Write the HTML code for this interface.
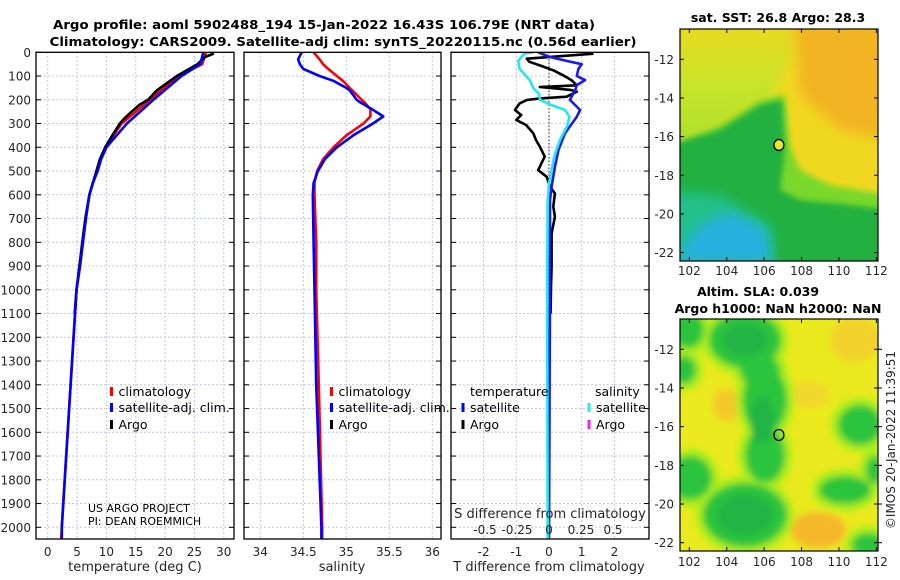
<!DOCTYPE html>
<html><head><meta charset="utf-8"><style>
html,body{margin:0;padding:0;background:#fff;}
svg{display:block;font-family:"DejaVu Sans","Liberation Sans",sans-serif;}
.tk{font-size:12px;fill:#262626;}
.tt{font-size:12.5px;font-weight:bold;fill:#000;}
.lg{font-size:12.5px;fill:#000;}
</style></head><body>
<svg id="fig" width="900" height="580" viewBox="0 0 900 580">
<defs>
<clipPath id="c1"><rect x="36" y="52" width="198" height="487"/></clipPath>
<clipPath id="c2"><rect x="244" y="52" width="197" height="487"/></clipPath>
<clipPath id="c3"><rect x="451" y="52" width="198" height="487"/></clipPath>
<clipPath id="m1"><rect x="680" y="29" width="198" height="232"/></clipPath>
<clipPath id="m2"><rect x="680" y="319" width="198" height="232"/></clipPath>
<filter id="bl" x="-20%" y="-20%" width="140%" height="140%"><feGaussianBlur stdDeviation="6"/></filter>
<filter id="bl2" x="-20%" y="-20%" width="140%" height="140%"><feGaussianBlur stdDeviation="3"/></filter>
<filter id="bl3" x="-20%" y="-20%" width="140%" height="140%"><feGaussianBlur stdDeviation="3.5"/></filter>
<linearGradient id="ylg" x1="0" y1="0" x2="0" y2="1"><stop offset="0" stop-color="#ecd81e"/><stop offset="0.5" stop-color="#c8e42a"/><stop offset="1" stop-color="#a8e02a"/></linearGradient>
</defs>
<text class="tt" x="324" y="29" text-anchor="middle" textLength="542" lengthAdjust="spacingAndGlyphs">Argo profile: aoml 5902488_194 15-Jan-2022 16.43S 106.79E (NRT data)</text>
<text class="tt" x="343" y="46" text-anchor="middle" textLength="587" lengthAdjust="spacingAndGlyphs">Climatology: CARS2009. Satellite-adj clim: synTS_20220115.nc (0.56d earlier)</text>
<g id="grids"></g>
<g id="lines"></g>
<g id="axes"></g>
<g id="maps"></g>
</svg>
<script>
// ---- data ----
const tDepth = [0,50,100,200,300,400,450,500,550,600,650,700,800,900,1000,1400,2000,2050];
const tClim = [27,26.3,22.2,17.4,12.6,9.8,9.0,8.4,7.7,7.1,6.8,6.5,6.0,5.5,4.9,3.9,2.4,2.3];
const tSat  = [26.5,26,22.8,18,13.5,10,9.1,8.5,7.7,7.1,6.8,6.5,6.0,5.5,4.9,3.9,2.4,2.4];
const argoDepth = [5,20,50,100,160,200,220,250,280,300,350,400,450,500,550,600,650,700,800,900,1000,1100];
const argoT = [28.3,26.8,25.5,22,18.6,17.1,15.7,14.3,13.0,12.3,11,9.8,8.9,8.3,7.7,7.1,6.75,6.4,5.9,5.4,4.9,4.6];
const sDepth = [0,30,50,70,100,120,150,160,190,200,210,240,270,300,350,400,450,500,550,600,800,1000,1400,2000,2050];
const sClim = [34.62,34.69,34.73,34.79,34.89,34.96,35.04,35.07,35.15,35.18,35.21,35.28,35.28,35.2,35.0,34.85,34.73,34.66,34.63,34.63,34.65,34.65,34.68,34.72,34.72];
const sSat  = [34.48,34.44,34.46,34.5,34.69,34.85,35.0,35.04,35.1,35.12,35.16,35.3,35.43,35.31,35.08,34.89,34.75,34.67,34.62,34.61,34.62,34.63,34.65,34.71,34.71];
const dTDepth = [0,20,35,50,70,100,117,138,159,200,243,271,341,411,482,566,622,1000,2050];
const dTSat = [-0.33,0.03,0.5,1.0,0.9,0.85,1.1,0.85,0.8,0.64,0.95,0.85,0.49,0.29,0.18,0.08,0.03,0.03,0.0];
const dSDepth = [0,5,35,70,117,152,173,200,218,243,271,313,369,439,552,622,1000,2050];
const dSSat = [-0.12,-0.19,-0.24,-0.23,-0.15,-0.12,-0.08,-0.07,0,0.125,0.16,0.14,0.086,0.04,0.0,-0.01,-0.015,-0.01];
const dTArgoDepth = [6,27,40,55,76,97,118,139,146,152,159,166,187,194,201,215,243,264,285,306,341,369,397,439,482,496,524,566,594,650,692,763,904,988,1100];
const dTArgo = [1.36,-0.68,-0.6,-0.28,0.13,0.43,0.69,0.85,-0.28,0.2,0.69,0.85,0.54,-0.28,-0.68,-0.9,-1.04,-0.85,-1.0,-0.7,-0.48,-0.4,-0.28,-0.13,-0.28,-0.33,-0.07,0.03,0.18,0.13,0.18,0.08,0.08,0.06,0.05];
const depthTicks = [0,100,200,300,400,500,600,700,800,900,1000,1100,1200,1300,1400,1500,1600,1700,1800,1900,2000];
const tTicks = [0,5,10,15,20,25,30];
const sTicks = [34,34.5,35,35.5,36];
const sTickLabels = ["34","34.5","35","35.5","36"];
const dTTicks = [-2,-1,0,1,2];
const dSTicks = [-0.5,-0.25,0,0.25,0.5];
const dSTickLabels = ["-0.5","-0.25","0","0.25","0.5"];
const lonTicks = [102,104,106,108,110,112];
const latTicks = [-12,-14,-16,-18,-20,-22];
const argoLon = 106.79, argoLat = -16.43;

// ---- scales ----
const Y = d => 52.3 + d*0.2375;
const XT = t => 47.7 + t*5.87;
const XS = s => 260.3 + (s-34)*86;
const XdT = v => 549 + v*32.7;
const XdS = v => 549 + v*128;
const MX = lon => 680 + (lon-101.5)*18.7;
const MY1 = lat => 59.3 + (-12-lat)*19.33;
const MY2 = lat => 349.3 + (-12-lat)*19.34;

const NS="http://www.w3.org/2000/svg";
function mk(tag, attrs, parent){const e=document.createElementNS(NS,tag);for(const k in attrs)e.setAttribute(k,attrs[k]);parent.appendChild(e);return e;}
const G=document.getElementById('grids'),L=document.getElementById('lines'),A=document.getElementById('axes'),M=document.getElementById('maps');

const panels=[{x0:36,x1:234,vals:tTicks,f:XT},{x0:244,x1:441,vals:sTicks,f:XS},{x0:451,x1:649,vals:dTTicks,f:XdT}];
panels.forEach((p,i)=>{
  depthTicks.forEach(d=>{
    const g=mk('line',{x1:p.x0,x2:p.x1,y1:Y(d),y2:Y(d),stroke:'#c4c4e6','stroke-width':1,'stroke-dasharray':'2,2'},G);
    
    
    mk('line',{x1:p.x0,x2:p.x0+5,y1:Y(d),y2:Y(d),stroke:'#000','stroke-width':1},A);
    mk('line',{x1:p.x1-5,x2:p.x1,y1:Y(d),y2:Y(d),stroke:'#000','stroke-width':1},A);
  });
  p.vals.forEach(v=>{
    const g=mk('line',{x1:p.f(v),x2:p.f(v),y1:52,y2:539,stroke:'#c4c4e6','stroke-width':1,'stroke-dasharray':'2,2'},G);
    
    
  });
  const r=mk('rect',{x:p.x0,y:52.3,width:p.x1-p.x0,height:539-52.3,fill:'none',stroke:'#000','stroke-width':1.3},A);
  
  
});
mk('line',{x1:XdT(0),x2:XdT(0),y1:52,y2:539,stroke:'#223322','stroke-width':1,'stroke-dasharray':'1.5,2'},G);

depthTicks.forEach(d=>{
  const t=mk('text',{class:'tk',x:31,y:Y(d)+4.5,'text-anchor':'end'},A);t.textContent=d;
  
  
});
tTicks.forEach(v=>{const t=mk('text',{class:'tk',x:XT(v),y:556,'text-anchor':'middle'},A);t.textContent=v;
  
  });
sTicks.forEach((v,i)=>{const t=mk('text',{class:'tk',x:XS(v),y:556,'text-anchor':'middle'},A);t.textContent=sTickLabels[i];
  
  });
dTTicks.forEach(v=>{const t=mk('text',{class:'tk',x:XdT(v),y:556,'text-anchor':'middle'},A);t.textContent=v;
  
  });
dSTicks.forEach((v,i)=>{const t=mk('text',{class:'tk',x:XdS(v),y:534,'text-anchor':'middle'},A);t.textContent=dSTickLabels[i];
  
  });
[['temperature (deg C)',135,'temperature-axis-title'],['salinity',342,'salinity-axis-title'],['T difference from climatology',549,'t-diff-axis-title']].forEach(a=>{
  const t=mk('text',{class:'tk',x:a[1],y:571,'text-anchor':'middle',style:'font-size:13px'},A);t.textContent=a[0];
  
  
});
{const t=mk('text',{class:'tk',x:550,y:518,'text-anchor':'middle',style:'font-size:13px'},A);t.textContent='S difference from climatology';
  
  }

function line(xs,ds,fx,col,clip,name,w){
  const pts=xs.map((v,i)=>fx(v).toFixed(1)+','+Y(ds[i]).toFixed(1)).join(' ');
  const p=mk('polyline',{points:pts,fill:'none',stroke:col,'stroke-width':w||2.6,'stroke-linejoin':'round','clip-path':'url(#'+clip+')'},L);
  
  
}
line(tClim,tDepth,XT,'#ff0000','c1','temperature-climatology-line');
line(argoT,argoDepth,XT,'#000','c1','temperature-argo-line');
line(tSat,tDepth,XT,'#0000ff','c1','temperature-satellite-line');
line(sClim,sDepth,XS,'#ff0000','c2','salinity-climatology-line');
line(sSat,sDepth,XS,'#0000ff','c2','salinity-satellite-line');
line(dTArgo,dTArgoDepth,XdT,'#000','c3','t-diff-argo-line');
line(dTSat,dTDepth,XdT,'#1a1aee','c3','t-diff-satellite-line');
line(dSSat,dSDepth,XdS,'#22e8ee','c3','s-diff-satellite-line');

function leg(x,y,col,txt,name){
  const m=mk('line',{x1:x,x2:x,y1:y-5,y2:y+4,stroke:col,'stroke-width':3},A);
  
  
  if(txt){const t=mk('text',{class:'lg',x:x+7,y:y+4},A);t.textContent=txt;
  
  }
}
leg(111.5,392,'#ff0000','climatology','legend-climatology');
leg(111.5,408,'#0000ff','satellite-adj. clim.','legend-satellite-adj');
leg(111.5,425,'#000','Argo','legend-argo');
leg(331.5,392,'#ff0000','climatology','legend2-climatology');
leg(331.5,408,'#0000ff','satellite-adj. clim.','legend2-satellite-adj');
leg(331.5,425,'#000','Argo','legend2-argo');
{const t=mk('text',{class:'lg',x:470,y:396},A);t.textContent='temperature';}
{const t=mk('text',{class:'lg',x:595,y:396},A);t.textContent='salinity';}
leg(463,408,'#0000ff','satellite','legend-t-satellite');
leg(463,425,'#000','Argo','legend-t-argo');
leg(589,408,'#22eeee','satellite','legend-s-satellite');
leg(589,425,'#ee22ee','Argo','legend-s-argo');
{const t=mk('text',{x:88,y:512,style:'font-size:11px;fill:#000'},A);t.textContent='US ARGO PROJECT';}
{const t=mk('text',{x:88,y:525,style:'font-size:11px;fill:#000'},A);t.textContent='PI: DEAN ROEMMICH';}

// ---- maps ----
function poly(pts,fill,filt,parent){return mk('polygon',{points:pts,fill:fill,filter:filt?'url(#'+filt+')':''},parent);}
const g1=mk('g',{'clip-path':'url(#m1)'},M);


mk('rect',{x:680,y:29,width:198,height:232,fill:'#f0d820'},g1);
poly('660,20 800,20 790,60 770,100 745,110 700,140 660,150','url(#ylg)','bl',g1);
poly('795,20 890,20 890,140 840,130 800,95','#f2b424','bl',g1);
poly('660,150 720,125 760,100 785,95 790,145 800,170 830,185 890,195 890,270 660,270','#7ad82a','bl2',g1);
poly('660,148 720,130 760,105 782,100 785,150 780,190 800,200 850,205 890,210 890,270 660,270','#20b040','bl2',g1);
poly('660,190 720,195 770,225 775,270 660,270','#22c08a','bl',g1);
poly('680,250 700,225 730,212 765,228 772,262 680,262','#28b0e0','bl',g1);
mk('rect',{x:680,y:29,width:198,height:232,fill:'none',stroke:'#000','stroke-width':1.2},M);
{const c=mk('ellipse',{cx:MX(argoLon),cy:MY1(argoLat),rx:5,ry:5.5,fill:'#e8e81e',stroke:'#000','stroke-width':1.3},M);}

const g2=mk('g',{'clip-path':'url(#m2)'},M);


mk('rect',{x:680,y:319,width:198,height:232,fill:'#eaea1e'},g2);
const bl2=mk('g',{filter:'url(#bl3)'},g2);
[[727,405,14,16,'#f5c82a'],[818,530,28,18,'#f5b82a'],[855,340,25,22,'#f2d22a'],[810,395,18,14,'#f2d82a']].forEach(e=>mk('ellipse',{cx:e[0],cy:e[1],rx:e[2],ry:e[3],fill:e[4]},bl2));
const blobs=[[745,340,36,28],[688,330,16,18],[684,370,12,14],[765,400,22,34],[765,455,20,28],[690,478,22,22],[745,515,42,32],[860,425,22,20],[845,490,26,14],[868,545,16,12],[874,470,8,14],[760,370,20,16]];
blobs.forEach(e=>mk('ellipse',{cx:e[0],cy:e[1],rx:e[2]+7,ry:e[3]+7,fill:'#a8ee1a'},bl2));
blobs.forEach(e=>mk('ellipse',{cx:e[0],cy:e[1],rx:e[2],ry:e[3],fill:'#2cc43c'},bl2));
[[745,340,22,16],[762,420,12,24],[745,515,28,20]].forEach(e=>mk('ellipse',{cx:e[0],cy:e[1],rx:e[2],ry:e[3],fill:'#24b444'},bl2));
mk('rect',{x:680,y:319,width:198,height:232,fill:'none',stroke:'#000','stroke-width':1.2},M);
{const c=mk('ellipse',{cx:MX(argoLon),cy:MY2(argoLat),rx:5,ry:5.5,fill:'none',stroke:'#000','stroke-width':1.3},M);}

[[MY1,29,261,275],[MY2,319,551,566]].forEach((m,k)=>{
  lonTicks.forEach(l=>{
    mk('line',{x1:MX(l),x2:MX(l),y1:m[2],y2:m[2]-4,stroke:'#000'},M);
    mk('line',{x1:MX(l),x2:MX(l),y1:m[1],y2:m[1]+4,stroke:'#000'},M);
    const t=mk('text',{class:'tk',x:MX(l),y:m[3],'text-anchor':'middle'},M);t.textContent=l;
    
    
  });
  latTicks.forEach(l=>{
    mk('line',{x1:680,x2:684,y1:m[0](l),y2:m[0](l),stroke:'#000'},M);
    mk('line',{x1:874,x2:878,y1:m[0](l),y2:m[0](l),stroke:'#000'},M);
    if(k===1) mk('line',{x1:878,x2:882,y1:m[0](l),y2:m[0](l),stroke:'#000'},M);
    const t=mk('text',{class:'tk',x:674,y:m[0](l)+4.5,'text-anchor':'end'},M);t.textContent=l;
    
    
  });
});
{const t=mk('text',{class:'tt',x:778,y:22,'text-anchor':'middle'},M);t.textContent='sat. SST: 26.8 Argo: 28.3';}
{const t=mk('text',{class:'tt',x:758,y:296,'text-anchor':'middle'},M);t.textContent='Altim. SLA: 0.039';}
{const t=mk('text',{class:'tt',x:778,y:313,'text-anchor':'middle'},M);t.textContent='Argo h1000: NaN h2000: NaN';}
{const t=mk('text',{class:'tk',x:0,y:0,'text-anchor':'middle',transform:'translate(895,440) rotate(-90)'},M);t.textContent='©IMOS 20-Jan-2022 11:39:51';}
</script>
</body></html>
